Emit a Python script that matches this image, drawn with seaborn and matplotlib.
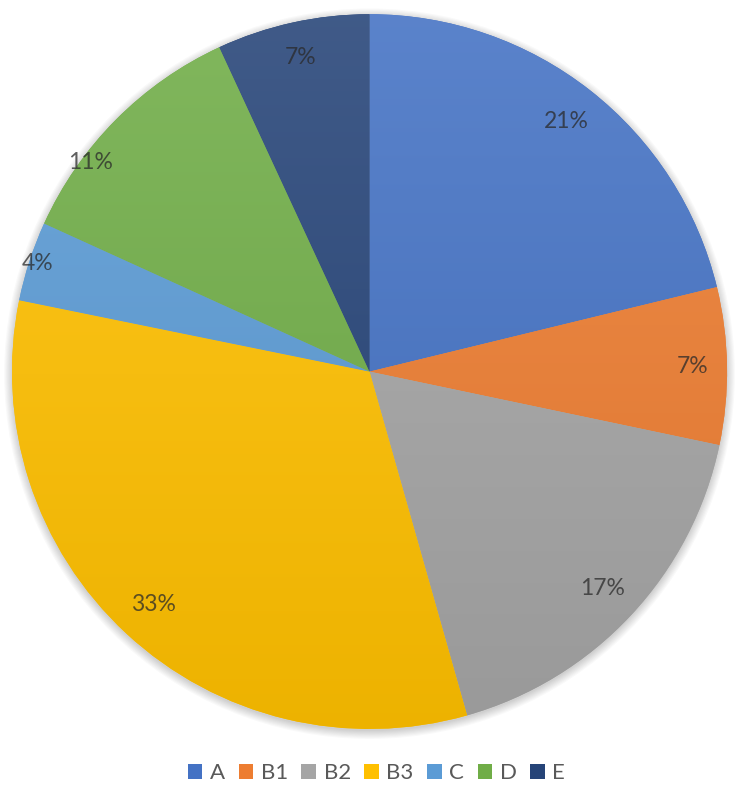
import numpy as np
import matplotlib; matplotlib.use("Agg")
import matplotlib.pyplot as plt
import matplotlib.colors as mcolors
from matplotlib.patches import Circle
import seaborn as sns

# ─── Data ───────────────────────────────────────────────────
categories = ["A", "B1", "B2", "B3", "C", "D", "E"]
shares     = [21.2, 7.1, 17.3, 32.6, 3.6, 11.3, 6.9]
colors     = ["#4472C4", "#ED7D31", "#A5A5A5", "#FFC000", "#5B9BD5", "#70AD47", "#264478"]

# label placement (excel "best fit" look)
label_r  = [0.89, 0.905, 0.89, 0.89, 0.975, 0.975, 0.90]
label_dt = [0, 0, 0, 0, 0, 8, 0]

sns.set_theme(style="white")
plt.rcParams["font.family"] = ["Lato", "DejaVu Sans"]
palette = sns.color_palette(colors)

fig = plt.figure(figsize=(7.5, 8.09), dpi=100)
ax = fig.add_axes([0.0017, 0.0857, 0.982, 0.910])

# soft shadow behind the pie
for r in np.linspace(1.0, 1.022, 8):
    ax.add_patch(Circle((0, -0.006), r, color="black", alpha=0.025, lw=0, zorder=0))

wedges, _ = ax.pie(shares, colors=palette, startangle=90, counterclock=False,
                   radius=1, wedgeprops={"linewidth": 0, "zorder": 1})

# vertical gradient per slice: lighter at the top, darker at the bottom
for w, c in zip(wedges, palette):
    rgb = np.array(mcolors.to_rgb(c))
    top = rgb + (1 - rgb) * 0.12
    bot = rgb * 0.93
    t = np.linspace(0, 1, 256)[:, None]
    grad = top * (1 - t) + bot * t
    img = ax.imshow(grad[:, None, :], extent=[-1, 1, -1, 1], aspect="auto",
                    origin="upper", zorder=2, interpolation="bilinear")
    img.set_clip_path(w)

# percentage labels
for w, v, lr, dt in zip(wedges, shares, label_r, label_dt):
    ang = np.deg2rad((w.theta1 + w.theta2) / 2 + dt)
    ax.text(lr * np.cos(ang), lr * np.sin(ang), f"{v:.0f}%", ha="center", va="center",
            fontsize=16.5, color="#2a2a2a", alpha=0.75, zorder=3)

ax.set_xlim(-1.03, 1.03); ax.set_ylim(-1.03, 1.03)
ax.set_aspect("auto")
ax.axis("off")

fig.legend(wedges, categories, loc="center", bbox_to_anchor=(0.502, 0.0445), ncol=7,
           frameon=False, fontsize=16, handlelength=0.65, handleheight=0.65,
           handletextpad=0.35, columnspacing=0.6, labelcolor="#595959")

plt.savefig("out.png", dpi=100)
